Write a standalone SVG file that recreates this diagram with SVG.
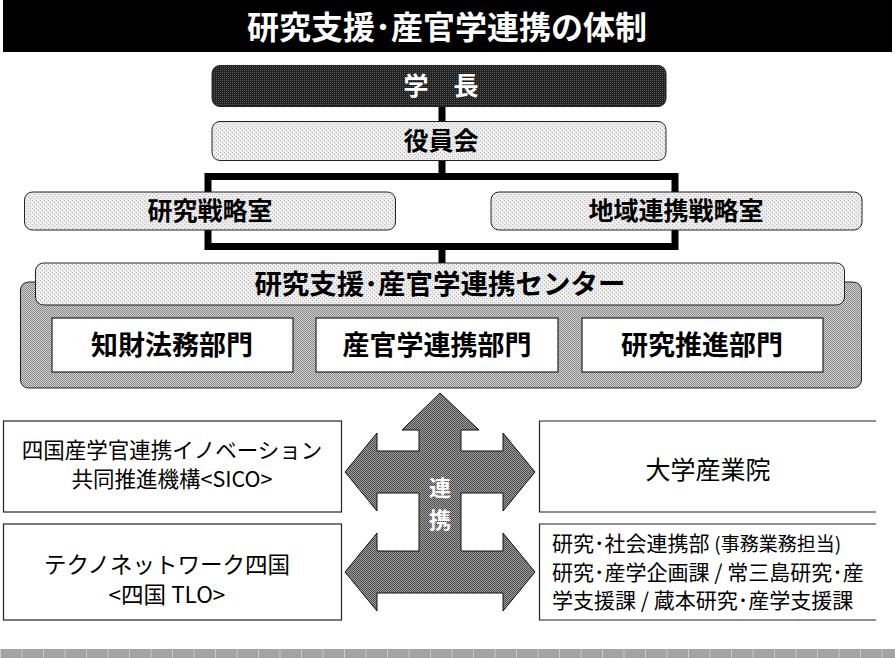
<svg xmlns="http://www.w3.org/2000/svg" width="895" height="658" viewBox="0 0 895 658">
<defs>
<pattern id="pLight" width="4" height="4" patternUnits="userSpaceOnUse">
<rect width="4" height="4" fill="#ececec"/>
<rect x="0" y="0" width="1" height="1" fill="#b8b8b8"/>
<rect x="2" y="2" width="1" height="1" fill="#b8b8b8"/>
</pattern>
<pattern id="pMid" width="2" height="2" patternUnits="userSpaceOnUse">
<rect width="2" height="2" fill="#d0d0d0"/>
<rect x="0" y="0" width="1" height="1" fill="#8a8a8a"/>
<rect x="1" y="1" width="1" height="1" fill="#8a8a8a"/>
</pattern>
<pattern id="pArrow" width="2" height="2" patternUnits="userSpaceOnUse">
<rect width="2" height="2" fill="#a0a0a0"/>
<rect x="0" y="0" width="1" height="1" fill="#4a4a4a"/>
<rect x="1" y="1" width="1" height="1" fill="#4a4a4a"/>
</pattern>
<pattern id="pDark" width="2" height="2" patternUnits="userSpaceOnUse">
<rect width="2" height="2" fill="#222"/>
<rect x="0" y="0" width="1" height="1" fill="#555"/>
</pattern>
<pattern id="pStripe" width="21.5" height="10" patternUnits="userSpaceOnUse">
<rect width="21.5" height="10" fill="#a3a3a3"/>
<rect x="0" width="1" height="10" fill="#c8c8c8"/>
</pattern>
</defs>
<style>
text{font-family:"Noto Sans CJK JP","Noto Sans CJK SC",sans-serif;text-anchor:middle}
.b{font-weight:bold}
.box{stroke:#222;stroke-width:1}
.wbox{fill:#fff;stroke:#222;stroke-width:1.2}
.line{fill:none;stroke:#000;stroke-width:7}
.l{text-anchor:start}
</style>
<rect x="3" y="0" width="889" height="52" fill="#000"/>
<text x="447" y="39" font-size="32" class="b" fill="#fff">研究支援･産官学連携の体制</text>

<g id="connectors">
<line class="line" x1="442" y1="106" x2="442" y2="121"/>
<line class="line" x1="442" y1="160" x2="442" y2="177"/>
<rect class="line" x="208" y="176.5" width="467" height="70"/>
<line class="line" x1="442" y1="246" x2="442" y2="264"/>
</g>

<g id="gakucho">
<rect x="212" y="65.5" width="454" height="41" rx="8" fill="url(#pDark)" class="box"/>
<text x="441" y="95" font-size="25" class="b" fill="#fff">学　長</text>
</g>
<g id="yakuinkai">
<rect x="212" y="121.5" width="454" height="39" rx="8" fill="url(#pLight)" class="box"/>
<text x="441" y="150" font-size="25" class="b" fill="#000">役員会</text>
</g>
<g id="kenkyu-senryaku">
<rect x="24.5" y="192" width="371" height="38" rx="8" fill="url(#pLight)" class="box"/>
<text x="210" y="220" font-size="25" class="b">研究戦略室</text>
</g>
<g id="chiiki-senryaku">
<rect x="491" y="192" width="371" height="38" rx="8" fill="url(#pLight)" class="box"/>
<text x="676" y="220" font-size="25" class="b">地域連携戦略室</text>
</g>

<g id="center">
<rect x="20.5" y="282" width="841" height="106" rx="8" fill="url(#pMid)" class="box"/>
<rect x="35.5" y="263" width="809" height="42" rx="8" fill="url(#pLight)" class="box"/>
<text x="440" y="294" font-size="27.5" class="b">研究支援･産官学連携センター</text>
</g>
<g id="chizai">
<rect x="52" y="318" width="241" height="54" class="wbox"/>
<text x="172" y="355" font-size="27" class="b">知財法務部門</text>
</g>
<g id="sankangaku">
<rect x="316" y="318" width="242" height="54" class="wbox"/>
<text x="437" y="355" font-size="27" class="b">産官学連携部門</text>
</g>
<g id="suishin">
<rect x="582" y="318" width="241" height="54" class="wbox"/>
<text x="702" y="355" font-size="27" class="b">研究推進部門</text>
</g>

<g id="renkei-arrow">
<polygon points="440,393 479,430 461,430 461,451 503,451 503,433 535,472 503,511 503,493 461,493 461,551 503,551 503,533 535,572 503,611 503,593 377,593 377,611 345,572 377,533 377,551 419,551 419,493 377,493 377,511 345,472 377,433 377,451 419,451 419,430 402,430" fill="url(#pArrow)" stroke="#111" stroke-width="1"/>
<text x="440" y="496" font-size="22" class="b" fill="#fff">連</text>
<text x="440" y="528" font-size="22" class="b" fill="#fff">携</text>
</g>

<g id="sico">
<rect x="3.5" y="421" width="338" height="91" class="wbox"/>
<text x="172" y="458" font-size="21.5">四国産学官連携イノベーション</text>
<text x="172" y="487" font-size="21.5">共同推進機構&lt;SICO&gt;</text>
</g>
<g id="tlo">
<rect x="3.5" y="524" width="338" height="96" class="wbox"/>
<text x="167" y="573" font-size="22.5">テクノネットワーク四国</text>
<text x="167" y="603" font-size="22.5">&lt;四国 TLO&gt;</text>
</g>
<g id="sangyoin">
<path d="M876,421 H539.5 V512 H876" fill="#fff" stroke="#222" stroke-width="1.2"/>
<text x="708" y="479" font-size="25">大学産業院</text>
</g>
<g id="jimu">
<path d="M876,524 H539.5 V620 H876" fill="#fff" stroke="#222" stroke-width="1.2"/>
<text x="552" y="551" font-size="21" class="l">研究･社会連携部 <tspan font-size="19">(事務業務担当)</tspan></text>
<text x="552" y="580" font-size="21" class="l">研究･産学企画課 / 常三島研究･産</text>
<text x="552" y="608" font-size="21" class="l">学支援課 / 蔵本研究･産学支援課</text>
</g>

<rect x="0" y="649" width="895" height="9" fill="url(#pStripe)"/>
</svg>
